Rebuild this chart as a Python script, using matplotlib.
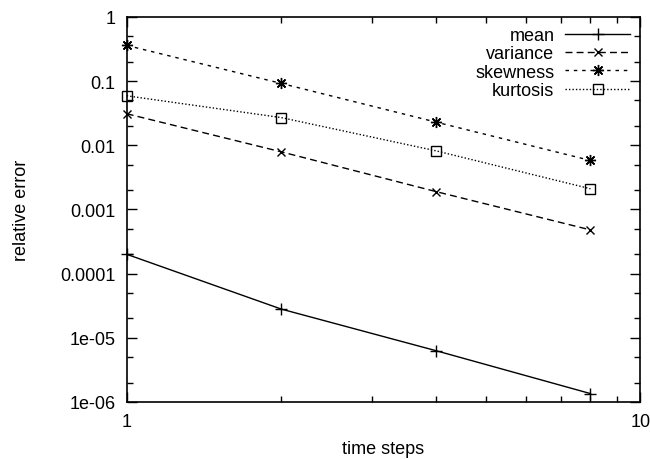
import matplotlib
matplotlib.use("Agg")
import matplotlib.pyplot as plt
from matplotlib.ticker import LogLocator, NullFormatter, FixedLocator, FixedFormatter

plt.rcParams['font.family'] = ['Liberation Sans', 'DejaVu Sans']

# data
steps = [1, 2, 4, 8]
mean = [2.0e-4, 2.8e-5, 6.3e-6, 1.35e-6]
variance = [0.031, 0.0079, 0.0019, 4.8e-4]
skewness = [0.36, 0.092, 0.023, 0.0058]
kurtosis = [0.059, 0.027, 0.0082, 0.0021]

ytick_vals = [1e-6, 1e-5, 1e-4, 1e-3, 1e-2, 0.1, 1]
ytick_labels = ["1e-06", "1e-05", "0.0001", "0.001", "0.01", "0.1", "1"]

fig = plt.figure(figsize=(6.5, 4.6), dpi=100)
ax = fig.add_axes([0.195, 0.124, 0.79, 0.837])

ax.plot(steps, mean, 'k-', lw=1.0, marker='+', ms=9, mew=1.0, clip_on=False, label='mean')
ax.plot(steps, variance, 'k', ls=(0, (5, 3)), lw=1.0, marker='x', ms=6, mew=1.0,
        clip_on=False, label='variance')
ax.plot(steps, skewness, 'k', ls=(0, (2.5, 3.5)), lw=1.0, marker=(8, 2, 0), ms=8, mew=1.0,
        clip_on=False, label='skewness')
ax.plot(steps, kurtosis, 'k', ls=(0, (1, 1.5)), lw=1.0, marker='s', ms=6.5, mew=1.0,
        mfc='none', clip_on=False, label='kurtosis')

ax.set_xscale('log')
ax.set_yscale('log')
ax.set_xlim(1, 10)
ax.set_ylim(1e-6, 1)

ax.xaxis.set_major_locator(FixedLocator([1, 10]))
ax.xaxis.set_major_formatter(FixedFormatter(["1", "10"]))
ax.xaxis.set_minor_locator(LogLocator(base=10, subs=range(2, 10)))
ax.xaxis.set_minor_formatter(NullFormatter())

ax.yaxis.set_major_locator(FixedLocator(ytick_vals))
ax.yaxis.set_major_formatter(FixedFormatter(ytick_labels))
ax.yaxis.set_minor_locator(LogLocator(base=10, subs=(2, 5)))
ax.yaxis.set_minor_formatter(NullFormatter())

ax.tick_params(which='both', direction='in', top=True, right=True, labelsize=13, colors='black')
ax.tick_params(which='major', length=7, width=1, pad=8)
ax.tick_params(which='minor', length=4, width=1)
for s in ax.spines.values():
    s.set_linewidth(1.2)

ax.set_xlabel("time steps", fontsize=13, labelpad=7)
ax.set_ylabel("relative error", fontsize=13, labelpad=22)

leg = ax.legend(loc='upper right', frameon=False, markerfirst=False, fontsize=13,
                handlelength=3.6, handletextpad=0.6, labelspacing=0.08,
                borderaxespad=0.15)

fig.savefig("out.png", dpi=100)
